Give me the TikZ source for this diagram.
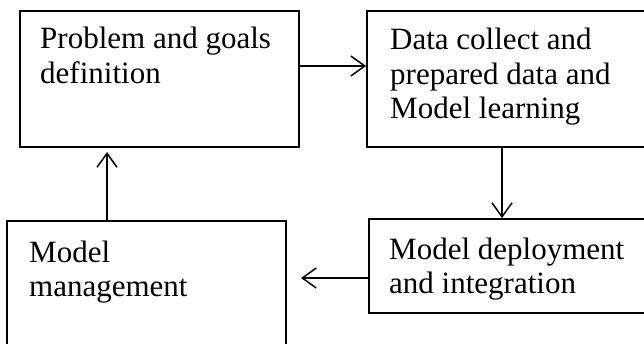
\documentclass[tikz,border=0pt]{standalone}
\usepackage{fontspec}
\setmainfont{Liberation Serif}
\usetikzlibrary{arrows.meta,fit}
\tikzset{
  box/.style={draw=black, line width=1.8pt, inner sep=0pt, rectangle},
  txt/.style={inner sep=0pt, align=left, font=\fontsize{31}{34.5}\selectfont, anchor=base west},
  arr/.style={draw=black, line width=1.5pt, -{Straight Barb[length=14pt,width=20pt,line width=1.5pt]}}
}
\begin{document}
\begin{tikzpicture}[x=1pt,y=-1pt]
\useasboundingbox (0,0) rectangle (644,344);
\fill[white] (0,0) rectangle (644,344);
\clip (0,0) rectangle (644,344);
% boxes
\coordinate (p1a) at (20,11);  \coordinate (p1b) at (299,147);
\coordinate (p2a) at (367,11); \coordinate (p2b) at (670,147);
\coordinate (p3a) at (369,219);\coordinate (p3b) at (670,313);
\coordinate (p4a) at (7,221);  \coordinate (p4b) at (286,370);
\node[box, fit={(p1a)(p1b)}] (b1) {};
\node[box, fit={(p2a)(p2b)}] (b2) {};
\node[box, fit={(p3a)(p3b)}] (b3) {};
\node[box, fit={(p4a)(p4b)}] (b4) {};
% texts (base anchor = baseline of last line)
\node[txt] (t1) at (40,83.5) {Problem and goals\\definition};
\node[txt] (t2) at (390,119) {Data collect and\\prepared data and\\Model learning};
\node[txt] (t3) at (389,293.5) {Model deployment\\and integration};
\node[txt] (t4) at (29,296.5) {Model\\management};
% connector guides
\coordinate (g1) at (0,66);
\coordinate (g2) at (502,0);
\coordinate (g3) at (0,278);
\coordinate (g4) at (107,0);
\coordinate (e3) at (301,0);
\coordinate (e4) at (0,152);
% connectors
\draw[arr] (b1.east |- g1) -- (b2.west |- g1);
\draw[arr] (b2.south -| g2) -- (b3.north -| g2);
\draw[arr] (b3.west |- g3) -- (e3 |- g3);
\draw[arr] (b4.north -| g4) -- (e4 -| g4);
\end{tikzpicture}
\end{document}
